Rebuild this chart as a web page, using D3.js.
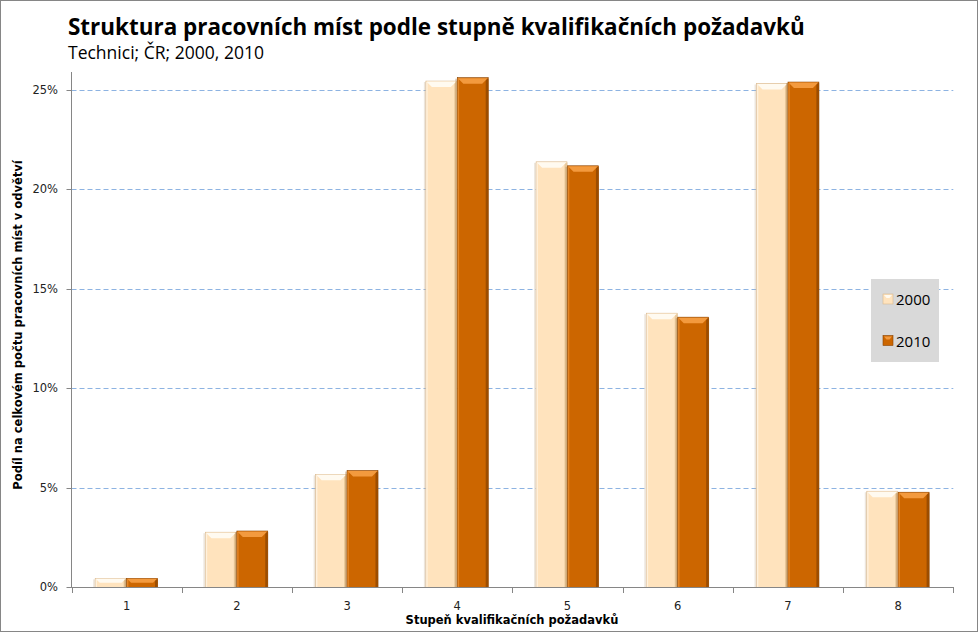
<!DOCTYPE html>
<html><head><meta charset="utf-8">
<script src="https://cdn.jsdelivr.net/npm/d3@7"></script>
<style>body{margin:0;background:#fff}svg{display:block}</style>
</head><body>
<svg id="c" width="978" height="632"></svg>
<script>
const categories = ["1","2","3","4","5","6","7","8"];
const seriesNames = ["2000","2010"];
const values2000 = [0.45, 2.77, 5.68, 25.45, 21.39, 13.78, 25.33, 4.83];
const values2010 = [0.45, 2.83, 5.87, 25.62, 21.19, 13.58, 25.40, 4.78];
const yTicks = [0, 5, 10, 15, 20, 25];
const titleText = "Struktura pracovních míst podle stupně kvalifikačních požadavků";
const subtitleText = "Technici; ČR; 2000, 2010";
const xTitle = "Stupeň kvalifikačních požadavků";
const yTitle = "Podíl na celkovém počtu pracovních míst v odvětví";

const svg = d3.select("#c");
const M = {left: 71.5, right: 953.3, top: 72, bottom: 587.3};
svg.append("rect").attr("x",0.5).attr("y",0.5).attr("width",977).attr("height",631)
  .attr("fill","#fff").attr("stroke","#868686");

const x0 = d3.scaleBand().domain(categories).range([M.left, M.right]).paddingInner(0.43).paddingOuter(0.215);
const x1 = d3.scaleBand().domain(seriesNames).range([0, x0.bandwidth()]);
const y = d3.scaleLinear().domain([0, 25]).range([M.bottom, 90]);

// gridlines
svg.append("g").selectAll("line").data(yTicks.filter(d=>d>0)).join("line")
  .attr("x1", M.left).attr("x2", M.right).attr("y1", d=>Math.round(y(d))+0.5).attr("y2", d=>Math.round(y(d))+0.5)
  .attr("stroke","#8db3e2").attr("stroke-dasharray","5,3").attr("stroke-width",1);

// bars
const colors = {
  "2000": {fill:"#ffe3bd", edge:"#d8b890", top:"#fffaf0", right:"#e9c99c", shade:"#c9b49a"},
  "2010": {fill:"#cc6600", edge:"#8a4300", top:"#f39a3e", right:"#9c4d00", shade:"#a0703a"}
};
const rows = categories.map((c,i)=>({cat:c, vals:[{s:"2000", v:values2000[i]},{s:"2010", v:values2010[i]}]}));
const g = svg.append("g").selectAll("g").data(rows).join("g").attr("transform", d=>`translate(${x0(d.cat)},0)`);
const bar = g.selectAll("g").data(d=>d.vals).join("g");
bar.append("rect").attr("x", d=>x1(d.s)-2).attr("y", d=>y(d.v)+1).attr("width", x1.bandwidth()+2)
  .attr("height", d=>M.bottom - y(d.v)-1).attr("fill", d=>colors[d.s].shade).attr("opacity",0.35);
bar.append("rect").attr("x", d=>x1(d.s)).attr("y", d=>y(d.v)).attr("width", x1.bandwidth()-0.5)
  .attr("height", d=>M.bottom - y(d.v)).attr("fill", d=>colors[d.s].fill)
  .attr("stroke", d=>colors[d.s].edge).attr("stroke-width",0.6);
bar.append("rect").attr("x", d=>x1(d.s)+x1.bandwidth()-3).attr("y", d=>y(d.v)+1).attr("width", 2.5)
  .attr("height", d=>M.bottom - y(d.v)-1).attr("fill", d=>colors[d.s].right);
bar.append("rect").attr("x", d=>x1(d.s)+0.3).attr("y", d=>y(d.v)+1).attr("width", 1.5)
  .attr("height", d=>M.bottom - y(d.v)-1).attr("fill", d=>colors[d.s].top).attr("opacity",0.6);
bar.append("path").attr("d", d=>{
  const xa = x1(d.s), w = x1.bandwidth()-0.5, yt = y(d.v), h = Math.min(6, (M.bottom-yt)/2);
  return `M${xa+0.5},${yt+0.5} L${xa+w-0.5},${yt+0.5} L${xa+w-h},${yt+h} L${xa+h},${yt+h} Z`;
}).attr("fill", d=>colors[d.s].top);

// axes
const axG = svg.append("g").attr("stroke","#868686").attr("stroke-width",1);
axG.append("line").attr("x1", M.left).attr("x2", M.left).attr("y1", M.top).attr("y2", M.bottom+0.5);
axG.append("line").attr("x1", M.left).attr("x2", M.right).attr("y1", Math.round(M.bottom)+0.5).attr("y2", Math.round(M.bottom)+0.5);
axG.selectAll(".yt").data(yTicks).join("line").attr("x1", M.left-5).attr("x2", M.left)
  .attr("y1", d=>Math.round(y(d))+0.5).attr("y2", d=>Math.round(y(d))+0.5);
const xTickPos = categories.map(c=>x0(c)-x0.step()*x0.paddingInner()/2).concat([M.right]);
axG.selectAll(".xt").data(xTickPos).join("line").attr("x1", d=>Math.round(d)+0.5).attr("x2", d=>Math.round(d)+0.5)
  .attr("y1", Math.round(M.bottom)).attr("y2", Math.round(M.bottom)+6);

const tickFont = "Tahoma, 'DejaVu Sans', Verdana, sans-serif";
svg.append("g").selectAll("text").data(yTicks).join("text")
  .attr("x", 58).attr("y", d=>y(d)+4).attr("text-anchor","end")
  .attr("font-family", tickFont).attr("font-size", 11.5).attr("fill","#222").text(d=>d+"%");
svg.append("g").selectAll("text").data(categories).join("text")
  .attr("x", d=>x0(d)+x0.bandwidth()/2).attr("y", 610).attr("text-anchor","middle")
  .attr("font-family", tickFont).attr("font-size", 11.5).attr("fill","#222").text(d=>d);

svg.append("text").attr("x", 512).attr("y", 624).attr("text-anchor","middle")
  .attr("font-family", tickFont).attr("font-weight","bold").attr("font-size", 11.5).attr("fill","#000").text(xTitle);
svg.append("text").attr("transform","translate(22,325) rotate(-90)").attr("text-anchor","middle")
  .attr("font-family", tickFont).attr("font-weight","bold").attr("font-size", 11.5).attr("fill","#000").text(yTitle);

// title
const t = svg.append("text").attr("x", 68).attr("y", 35).attr("font-family","'Open Sans', 'Noto Sans', sans-serif")
  .attr("font-weight","bold").attr("font-size", 24).attr("fill","#000").text(titleText);
let tw = t.node().getComputedTextLength();
t.attr("font-size", 24*737/tw);
const st = svg.append("text").attr("x", 68).attr("y", 59).attr("font-family","'Open Sans', 'Noto Sans', sans-serif")
  .attr("font-size", 17).attr("fill","#000").text(subtitleText);
let sw = st.node().getComputedTextLength();
st.attr("font-size", 17*196/sw);

// legend
const lg = svg.append("g");
lg.append("rect").attr("x",871).attr("y",279).attr("width",68).attr("height",83).attr("fill","#d9d9d9");
const le = lg.selectAll("g").data(seriesNames).join("g").attr("transform",(d,i)=>`translate(883,${299+i*41.5})`);
le.append("rect").attr("x",0).attr("y",-5).attr("width",10).attr("height",10).attr("fill",d=>colors[d].fill).attr("stroke",d=>colors[d].edge).attr("stroke-width",0.6);
le.append("path").attr("d","M1,-4 L9,-4 L6.5,-1 L3.5,-1 Z").attr("fill",d=>colors[d].top);
le.append("text").attr("x",13).attr("y",6).attr("font-family","'Open Sans', 'Noto Sans', sans-serif")
  .attr("font-size",15).attr("fill","#000").text(d=>d);
</script>
</body></html>
